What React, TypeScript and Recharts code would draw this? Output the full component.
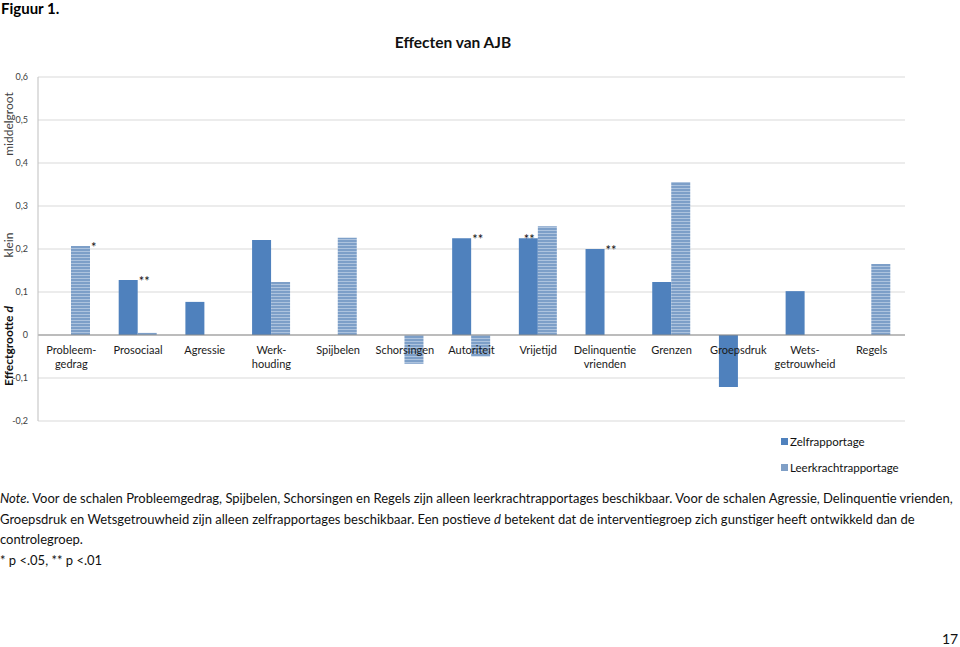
import React from "react";
import {
  BarChart,
  Bar,
  XAxis,
  YAxis,
  CartesianGrid,
  ReferenceLine,
  LabelList,
} from "recharts";

const categories = [
  "Probleem-\ngedrag",
  "Prosociaal",
  "Agressie",
  "Werk-\nhouding",
  "Spijbelen",
  "Schorsingen",
  "Autoriteit",
  "Vrijetijd",
  "Delinquentie\nvrienden",
  "Grenzen",
  "Groepsdruk",
  "Wets-\ngetrouwheid",
  "Regels",
];

const zelf: (number | null)[] = [
  null, 0.128, 0.077, 0.221, null, null, 0.225, 0.225, 0.2, 0.123, -0.121, 0.102, null,
];
const leer: (number | null)[] = [
  0.207, 0.005, null, 0.123, 0.226, -0.067, -0.05, 0.253, null, 0.356, null, null, 0.165,
];
const zelfSig = ["", "**", "", "", "", "", "**", "**", "**", "", "", "", ""];
const leerSig = ["*", "", "", "", "", "", "", "", "", "", "", "", ""];

const yTicks = [-0.2, -0.1, 0, 0.1, 0.2, 0.3, 0.4, 0.5, 0.6];

const data = categories.map((name, i) => ({
  name,
  Zelfrapportage: zelf[i],
  Leerkrachtrapportage: leer[i],
}));

const FONT = "Lato, 'Open Sans', sans-serif";
const ZELF = "#4f81bd";
const LEER = "#7f9fc6";

const Y_MIN = -0.2;
const Y_MAX = 0.6;
const PLOT_TOP = 77;
const PLOT_BOTTOM = 421;
const CHART_H = 480;
const XAXIS_H = 30;
// distance from the axis bottom up to the zero line
const zeroOffset = ((0 - Y_MIN) / (Y_MAX - Y_MIN)) * (PLOT_BOTTOM - PLOT_TOP);

const CatTick = (props: any) => {
  const { x, y, payload } = props;
  const lines = String(payload.value).split("\n");
  const base = y - zeroOffset + 19;
  return (
    <text x={x} y={base} textAnchor="middle" fontSize={11} fill="#1a1a1a" fontFamily={FONT}>
      {lines.map((l: string, i: number) => (
        <tspan key={i} x={x} dy={i === 0 ? 0 : 14}>
          {l}
        </tspan>
      ))}
    </text>
  );
};

const starLabel = (series: "zelf" | "leer") => (props: any) => {
  const { x, y, width, value } = props;
  const i = categories.indexOf(value);
  const sig = series === "zelf" ? zelfSig[i] : leerSig[i];
  if (!sig) return null;
  let tx = x + width + 1;
  // when the neighbouring bar is taller, the stars sit on top of this bar instead
  if (series === "zelf") {
    const other = leer[i];
    const own = zelf[i] ?? 0;
    if (other != null && other > own) tx = x + width - 14;
  }
  return (
    <text x={tx} y={y + 6} fontSize={13} fill="#111" fontFamily={FONT}>
      {sig}
    </text>
  );
};

const legendItems = [
  { label: "Zelfrapportage", color: ZELF },
  { label: "Leerkrachtrapportage", color: LEER },
];

const sideLabel = (text: React.ReactNode, cy: number, bold = false) => (
  <div
    style={{
      position: "absolute",
      left: 8,
      top: cy,
      transform: "translate(-50%, -50%) rotate(-90deg)",
      whiteSpace: "nowrap",
      fontFamily: FONT,
      fontSize: 12,
      fontWeight: bold ? 700 : 400,
      color: bold ? "#111" : "#404040",
    }}
  >
    {text}
  </div>
);

export default function App() {
  return (
    <div
      style={{
        position: "absolute",
        left: 0,
        top: 0,
        width: 960,
        height: 647,
        background: "#fff",
        fontFamily: FONT,
      }}
    >
      <div style={{ position: "absolute", left: 1, top: -1, fontSize: 15, fontWeight: 700 }}>
        Figuur 1.
      </div>
      <div
        style={{
          position: "absolute",
          left: 453,
          top: 33,
          transform: "translateX(-50%)",
          fontSize: 15.5,
          fontWeight: 700,
          whiteSpace: "nowrap",
          color: "#111",
        }}
      >
        Effecten van AJB
      </div>

      <div style={{ position: "absolute", left: 0, top: 0 }}>
        <BarChart
          width={960}
          height={CHART_H}
          data={data}
          barGap={0}
          barSize={19}
          margin={{ top: PLOT_TOP, right: 55, bottom: CHART_H - PLOT_BOTTOM - XAXIS_H, left: 0 }}
        >
          <defs>
            <pattern id="stripes" width="4" height="3" patternUnits="userSpaceOnUse">
              <rect width="4" height="3" fill="#7d9fc8" />
              <rect y="2" width="4" height="1" fill="#adc3de" />
            </pattern>
          </defs>
          <CartesianGrid vertical={false} stroke="#d9d9d9" />
          <XAxis
            dataKey="name"
            height={XAXIS_H}
            axisLine={false}
            tickLine={false}
            tickSize={0}
            tickMargin={0}
            interval={0}
            tick={<CatTick />}
          />
          <YAxis
            width={38}
            domain={[Y_MIN, Y_MAX]}
            ticks={yTicks}
            interval={0}
            tickLine={false}
            tickSize={6}
            tickMargin={4}
            axisLine={{ stroke: "#bfbfbf" }}
            tickFormatter={(v: number) => (v === 0 ? "0" : v.toFixed(1).replace(".", ","))}
            tick={{ fontSize: 9, fill: "#404040", fontFamily: FONT }}
          />
          <ReferenceLine y={0} stroke="#8c8c8c" />
          <Bar dataKey="Zelfrapportage" fill={ZELF} isAnimationActive={false}>
            <LabelList dataKey="name" content={starLabel("zelf")} />
          </Bar>
          <Bar dataKey="Leerkrachtrapportage" fill="url(#stripes)" isAnimationActive={false}>
            <LabelList dataKey="name" content={starLabel("leer")} />
          </Bar>
        </BarChart>
      </div>

      <div style={{ position: "absolute", left: 781, top: 428, fontSize: 11.5, color: "#111" }}>
        {legendItems.map((it, i) => (
          <div key={i} style={{ display: "flex", alignItems: "center", height: 26 }}>
            <span
              style={{ width: 7, height: 7, background: it.color, marginRight: 2, display: "inline-block" }}
            />
            {it.label}
          </div>
        ))}
      </div>

      {sideLabel("middelgroot", 124)}
      {sideLabel("klein", 245)}
      {sideLabel(
        <span>
          Effectgrootte <i>d</i>
        </span>,
        346,
        true
      )}

      <div
        style={{
          position: "absolute",
          left: 0,
          top: 488,
          fontSize: 13,
          lineHeight: "20.5px",
          color: "#111",
          whiteSpace: "nowrap",
        }}
      >
        <i>Note</i>. Voor de schalen Probleemgedrag, Spijbelen, Schorsingen en Regels zijn alleen
        leerkrachtrapportages beschikbaar. Voor de schalen Agressie, Delinquentie vrienden,
        <br />
        Groepsdruk en Wetsgetrouwheid zijn alleen zelfrapportages beschikbaar. Een postieve <i>d</i>{" "}
        betekent dat de interventiegroep zich gunstiger heeft ontwikkeld dan de
        <br />
        controlegroep.
        <br />* p &lt;.05, ** p &lt;.01
      </div>
      <div style={{ position: "absolute", left: 942, top: 630, fontSize: 14, color: "#111" }}>
        17
      </div>
    </div>
  );
}
